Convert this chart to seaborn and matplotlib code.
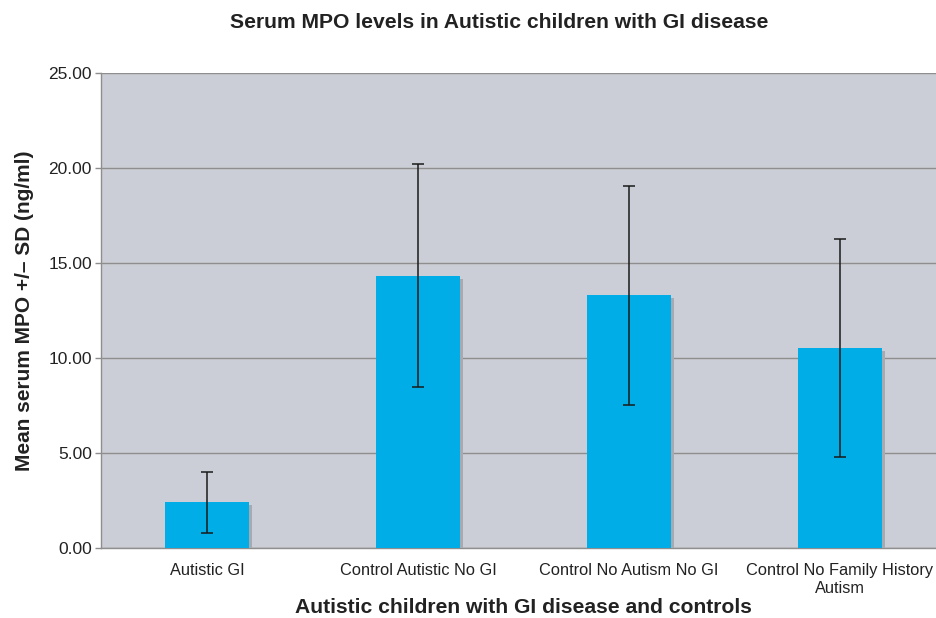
import numpy as np
import pandas as pd
import matplotlib
matplotlib.use("Agg")
import matplotlib.pyplot as plt
import matplotlib.patheffects as pe
import seaborn as sns

# Values
groups = ["Autistic GI", "Control Autistic No GI", "Control No Autism No GI",
          "Control No Family History\nAutism"]
mean_mpo = [2.40, 14.33, 13.30, 10.52]
sd_mpo = [1.62, 5.87, 5.75, 5.72]

df = pd.DataFrame({"group": groups, "mpo": mean_mpo, "sd": sd_mpo})

sns.set_style("white")
plt.rcParams["font.family"] = ["Liberation Sans", "DejaVu Sans"]

fig = plt.figure(figsize=(9.37, 6.18), dpi=100)
# plot area runs slightly past the right edge of the image, as in the reference
ax = fig.add_axes([101.5 / 937, 70 / 618, 844 / 937, 475 / 618])
ax.set_facecolor("#cbced6")

sns.barplot(data=df, x="group", y="mpo", color="#00ade6", saturation=1,
            width=0.40, ax=ax, zorder=3, edgecolor="none", linewidth=0)

# bars carry a small drop shadow
for bar in ax.patches:
    bar.set_path_effects([
        pe.SimplePatchShadow(offset=(2.2, -2.2), shadow_rgbFace="#a6aab3", alpha=1),
        pe.Normal(),
    ])

centers = [b.get_x() + b.get_width() / 2 for b in ax.patches]
ax.errorbar(centers, df["mpo"], yerr=df["sd"], fmt="none", ecolor="#1a1a1a",
            elinewidth=1.1, capsize=4.5, capthick=1.1, zorder=4)

ax.set_ylim(0, 25)
ax.set_xlim(-0.5, 3.5)
ax.set_yticks(np.arange(0, 26, 5))
ax.set_yticklabels([f"{v:.2f}" for v in np.arange(0, 26, 5)])
ax.yaxis.grid(True, color="#8e8e8e", linewidth=1, zorder=0)
ax.set_axisbelow(True)

ax.set_xticks(range(4))
ax.set_xticklabels(groups)
ax.set_xticks([0.5, 1.5, 2.5], minor=True)
ax.tick_params(axis="x", which="major", length=0, pad=11, labelsize=11.8,
               labelcolor="#222222")
ax.tick_params(axis="x", which="minor", length=5, color="#8e8e8e", width=1)
ax.tick_params(axis="y", length=4, color="#8e8e8e", width=1, labelsize=12.5,
               labelcolor="#222222", left=True, pad=3)

for side in ["top", "right"]:
    ax.spines[side].set_visible(False)
for side in ["left", "bottom"]:
    ax.spines[side].set_color("#8e8e8e")
    ax.spines[side].set_linewidth(1)

ax.set_xlabel("Autistic children with GI disease and controls", fontsize=15.2,
              fontweight="bold", color="#222222", labelpad=2)
ax.set_ylabel("Mean serum MPO +/\u2013 SD (ng/ml)", fontsize=15,
              fontweight="bold", color="#222222", labelpad=10)
fig.text(499 / 937, 1 - 22 / 618, "Serum MPO levels in Autistic children with GI disease",
         ha="center", va="center", fontsize=15.2, fontweight="bold", color="#222222")

fig.savefig("out.png", dpi=100)
